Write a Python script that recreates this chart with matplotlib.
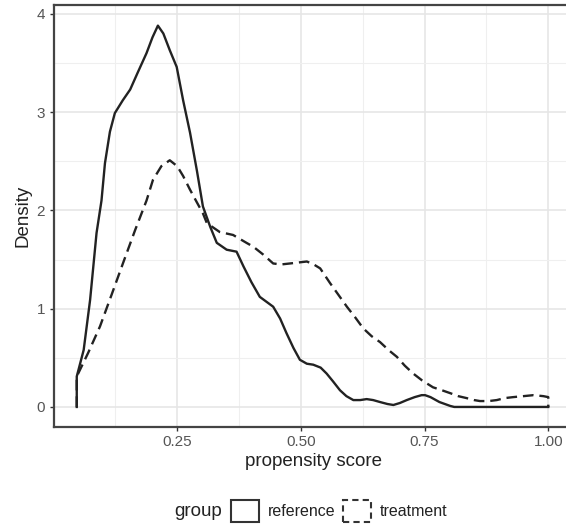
import matplotlib
matplotlib.use("Agg")
import matplotlib.pyplot as plt
from matplotlib.patches import Patch
import numpy as np

plt.rcParams['font.family'] = ['Liberation Sans', 'DejaVu Sans']

# reference group density curve (x, y)
ref_x = [0.047, 0.061, 0.074, 0.087, 0.097, 0.104, 0.114, 0.124, 0.140, 0.155, 0.170,
         0.188, 0.200, 0.211, 0.222, 0.235, 0.249, 0.262, 0.276, 0.290, 0.302, 0.317,
         0.330, 0.350, 0.370, 0.384, 0.400, 0.417, 0.444, 0.458, 0.471, 0.485, 0.498,
         0.512, 0.525, 0.540, 0.552, 0.565, 0.579, 0.592, 0.606, 0.620, 0.633, 0.646,
         0.660, 0.675, 0.687, 0.700, 0.714, 0.730, 0.744, 0.751, 0.762, 0.780, 0.802,
         0.810, 1.000]
ref_y = [0.31, 0.58, 1.09, 1.77, 2.10, 2.48, 2.80, 2.99, 3.12, 3.23, 3.40,
         3.60, 3.76, 3.88, 3.80, 3.63, 3.46, 3.12, 2.79, 2.40, 2.04, 1.83,
         1.67, 1.60, 1.58, 1.43, 1.27, 1.12, 1.02, 0.90, 0.75, 0.60, 0.48,
         0.44, 0.43, 0.40, 0.34, 0.26, 0.17, 0.11, 0.07, 0.07, 0.08, 0.07,
         0.05, 0.03, 0.02, 0.04, 0.07, 0.10, 0.12, 0.12, 0.10, 0.05, 0.01,
         0.00, 0.00]

# treatment group density curve (x, y)
trt_x = [0.047, 0.070, 0.094, 0.118, 0.141, 0.165, 0.188, 0.201, 0.218, 0.235, 0.250,
         0.262, 0.276, 0.290, 0.302, 0.310, 0.336, 0.363, 0.390, 0.404, 0.424, 0.444,
         0.460, 0.478, 0.495, 0.512, 0.526, 0.539, 0.559, 0.576, 0.593, 0.610, 0.626,
         0.643, 0.660, 0.677, 0.694, 0.710, 0.727, 0.745, 0.767, 0.785, 0.802, 0.818,
         0.835, 0.850, 0.862, 0.880, 0.896, 0.912, 0.929, 0.950, 0.970, 0.990, 1.000]
trt_y = [0.31, 0.55, 0.82, 1.15, 1.47, 1.80, 2.10, 2.31, 2.45, 2.51, 2.45,
         2.35, 2.21, 2.08, 1.97, 1.87, 1.78, 1.75, 1.67, 1.63, 1.55, 1.46,
         1.45, 1.46, 1.47, 1.48, 1.45, 1.41, 1.26, 1.14, 1.02, 0.91, 0.80,
         0.72, 0.66, 0.58, 0.51, 0.42, 0.34, 0.27, 0.20, 0.17, 0.14, 0.11,
         0.09, 0.07, 0.06, 0.06, 0.07, 0.09, 0.10, 0.11, 0.12, 0.11, 0.10]

x_ticks = [0.25, 0.50, 0.75, 1.00]
x_tick_labels = ["0.25", "0.50", "0.75", "1.00"]
y_ticks = [0, 1, 2, 3, 4]
y_tick_labels = ["0", "1", "2", "3", "4"]

fig = plt.figure(figsize=(5.66, 5.27), dpi=100)
ax = fig.add_axes([53.5 / 566, 100 / 527, 519.5 / 566, 422 / 527])

# treatment: closed polygon dashed
tx = [trt_x[0]] + trt_x + [trt_x[-1]]
ty = [0] + trt_y + [0]
ax.plot(tx, ty, color="#222222", lw=1.7, ls=(0, (4.5, 2.5)), solid_capstyle="butt")
# reference: closed polygon solid
rx = [ref_x[0]] + ref_x + [ref_x[-1]]
ry = [0] + ref_y + [0]
ax.plot(rx, ry, color="#222222", lw=1.7)

ax.set_xlim(0.0, 1.05)
ax.set_ylim(-0.204, 4.09)
ax.set_xticks(x_ticks)
ax.set_xticklabels(x_tick_labels)
ax.set_yticks(y_ticks)
ax.set_yticklabels(y_tick_labels)
ax.set_xticks([0.125, 0.375, 0.625, 0.875], minor=True)
ax.set_yticks([0.5, 1.5, 2.5, 3.5], minor=True)
ax.grid(True, which="major", color="#e6e6e6", lw=1.2)
ax.grid(True, which="minor", color="#efefef", lw=0.8)
ax.set_axisbelow(True)
ax.tick_params(which="minor", length=0)
ax.tick_params(which="major", length=3, width=1, color="#333333",
               labelsize=11, labelcolor="#555555", pad=3)
for s in ax.spines.values():
    s.set_color("#444444")
    s.set_linewidth(1.6)

ax.set_xlabel("propensity score", fontsize=13.5, color="#222222", labelpad=3)
ax.set_ylabel("Density", fontsize=13.5, color="#222222", labelpad=4)

fig.text(198 / 566, 1 - 511 / 527, "group", fontsize=13.5, color="#222222",
         ha="center", va="center")
handles = [Patch(facecolor="white", edgecolor="#333333", lw=1.5, label="reference"),
           Patch(facecolor="white", edgecolor="#333333", lw=1.5, ls=(0, (3, 2)), label="treatment")]
leg = fig.legend(handles=handles, loc="center left", bbox_to_anchor=(231 / 566, 1 - 511 / 527),
                 ncol=2, frameon=False, fontsize=11.5, handlelength=1.75, handleheight=1.75,
                 handletextpad=0.55, columnspacing=0.45, borderpad=0, borderaxespad=0)
for t in leg.get_texts():
    t.set_color("#222222")

fig.savefig("out.png", dpi=100)
